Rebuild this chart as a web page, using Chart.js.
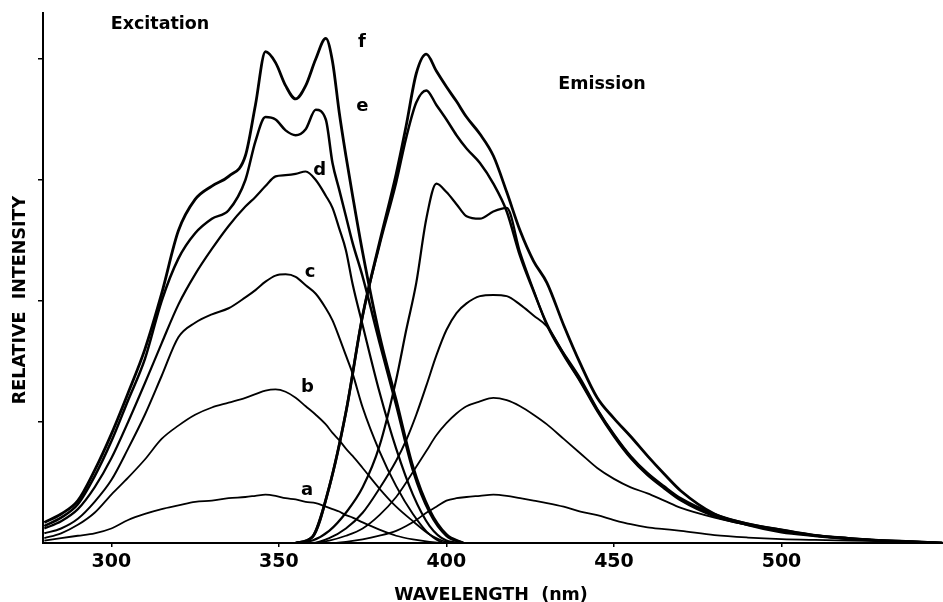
<!DOCTYPE html>
<html>
<head>
<meta charset="utf-8">
<script src="https://cdn.jsdelivr.net/npm/chart.js@4/dist/chart.umd.min.js"></script>
<style>
  html, body { margin: 0; padding: 0; background: #fff; }
</style>
</head>
<body>
<canvas id="spectra" width="943" height="602"></canvas>
<script>
const curveNames = ["a", "b", "c", "d", "e", "f"];

// excitation spectra (nm, relative intensity)
const exWavelengths = [280, 285, 290, 295, 300, 305, 310, 315, 320, 325, 330, 335, 340, 343, 346, 349, 352, 355, 358, 361, 364, 366, 368, 370, 372, 375, 380, 385, 390, 395, 400, 405];
const exA = [0.02, 0.04, 0.06, 0.08, 0.12, 0.19, 0.24, 0.28, 0.31, 0.34, 0.35, 0.37, 0.38, 0.39, 0.40, 0.39, 0.37, 0.36, 0.34, 0.33, 0.30, 0.28, 0.26, 0.23, 0.21, 0.17, 0.11, 0.06, 0.03, 0.01, 0, 0];
const exB = [0.04, 0.08, 0.15, 0.25, 0.40, 0.54, 0.69, 0.86, 0.97, 1.06, 1.12, 1.16, 1.20, 1.23, 1.26, 1.27, 1.25, 1.20, 1.13, 1.06, 0.98, 0.91, 0.85, 0.78, 0.72, 0.62, 0.45, 0.30, 0.18, 0.07, 0.01, 0];
const exC = [0.08, 0.12, 0.20, 0.34, 0.52, 0.78, 1.06, 1.38, 1.70, 1.82, 1.89, 1.94, 2.03, 2.09, 2.16, 2.21, 2.22, 2.20, 2.13, 2.06, 1.94, 1.84, 1.70, 1.55, 1.40, 1.12, 0.76, 0.47, 0.24, 0.07, 0, 0];
const exD = [0.12, 0.18, 0.28, 0.46, 0.70, 1.00, 1.32, 1.65, 1.97, 2.22, 2.43, 2.62, 2.78, 2.86, 2.95, 3.03, 3.04, 3.05, 3.07, 3.00, 2.87, 2.77, 2.60, 2.42, 2.14, 1.80, 1.25, 0.78, 0.40, 0.14, 0.02, 0];
const exE = [0.14, 0.21, 0.32, 0.55, 0.84, 1.18, 1.52, 2.00, 2.35, 2.56, 2.68, 2.75, 3.00, 3.32, 3.52, 3.50, 3.41, 3.37, 3.42, 3.58, 3.50, 3.14, 2.92, 2.70, 2.48, 2.20, 1.66, 1.14, 0.60, 0.25, 0.06, 0];
const exF = [0.17, 0.24, 0.35, 0.60, 0.90, 1.24, 1.60, 2.06, 2.58, 2.84, 2.95, 3.03, 3.20, 3.62, 4.06, 3.97, 3.78, 3.67, 3.78, 4.00, 4.17, 3.98, 3.56, 3.20, 2.87, 2.40, 1.72, 1.18, 0.63, 0.27, 0.07, 0];

// emission spectra
const emWavelengths = [355, 360, 365, 370, 375, 380, 385, 388, 391, 394, 397, 400, 403, 406, 410, 414, 418, 422, 426, 430, 435, 440, 445, 450, 455, 460, 465, 470, 480, 490, 500, 510, 520, 530, 540, 548];
const emA = [0, 0, 0, 0.01, 0.03, 0.06, 0.10, 0.14, 0.19, 0.25, 0.30, 0.35, 0.37, 0.38, 0.39, 0.40, 0.39, 0.37, 0.35, 0.33, 0.30, 0.26, 0.23, 0.19, 0.155, 0.13, 0.115, 0.10, 0.065, 0.045, 0.032, 0.025, 0.02, 0.015, 0.01, 0];
const emB = [0, 0, 0.02, 0.06, 0.12, 0.23, 0.38, 0.50, 0.63, 0.76, 0.89, 0.99, 1.07, 1.13, 1.17, 1.20, 1.18, 1.13, 1.06, 0.98, 0.86, 0.74, 0.62, 0.53, 0.46, 0.41, 0.35, 0.29, 0.21, 0.15, 0.10, 0.06, 0.035, 0.02, 0.01, 0];
const emC = [0, 0, 0.04, 0.12, 0.25, 0.45, 0.68, 0.85, 1.06, 1.30, 1.55, 1.76, 1.90, 1.98, 2.04, 2.05, 2.04, 1.97, 1.88, 1.79, 1.57, 1.36, 1.11, 0.90, 0.72, 0.58, 0.47, 0.37, 0.24, 0.16, 0.11, 0.065, 0.04, 0.02, 0.01, 0];
const emD = [0, 0.02, 0.10, 0.25, 0.46, 0.80, 1.35, 1.76, 2.15, 2.68, 2.97, 2.90, 2.80, 2.70, 2.68, 2.74, 2.77, 2.40, 2.09, 1.80, 1.55, 1.33, 1.09, 0.88, 0.70, 0.56, 0.45, 0.35, 0.22, 0.15, 0.10, 0.06, 0.035, 0.02, 0.01, 0];
const emE = [0, 0.05, 0.46, 1.08, 1.88, 2.46, 2.98, 3.35, 3.64, 3.74, 3.62, 3.50, 3.37, 3.26, 3.14, 2.97, 2.74, 2.37, 2.08, 1.81, 1.56, 1.34, 1.10, 0.89, 0.71, 0.57, 0.46, 0.36, 0.23, 0.16, 0.11, 0.065, 0.04, 0.02, 0.01, 0];
const emF = [0, 0.05, 0.46, 1.08, 1.88, 2.48, 3.05, 3.45, 3.88, 4.04, 3.90, 3.77, 3.65, 3.52, 3.38, 3.20, 2.90, 2.58, 2.33, 2.15, 1.80, 1.48, 1.20, 1.03, 0.88, 0.72, 0.57, 0.43, 0.24, 0.15, 0.09, 0.06, 0.035, 0.02, 0.01, 0];

const xTicks = [300, 350, 400, 450, 500];
const yTicks = [1, 2, 3, 4];

// where the letters a..f sit (nm, intensity)
const letterWl = [358.4, 358.5, 359.3, 362.2, 374.9, 374.8];
const letterVal = [0.40, 1.25, 2.20, 3.04, 3.57, 4.10];

const exSeries = [exA, exB, exC, exD, exE, exF];
const emSeries = [emA, emB, emC, emD, emE, emF];
const widths = [1.8, 1.8, 2, 2.2, 2.5, 2.8];

const FONT = "'DejaVu Sans', 'Liberation Sans', sans-serif";

function toPoints(xs, ys) {
  return xs.map((x, i) => ({ x: x, y: ys[i] }));
}

function buildDatasets() {
  const sets = [];
  curveNames.forEach((name, i) => {
    sets.push({
      label: "Excitation " + name,
      data: toPoints(exWavelengths, exSeries[i]),
      borderColor: "#000",
      borderWidth: widths[i],
      pointRadius: 0,
      cubicInterpolationMode: "monotone",
    });
    sets.push({
      label: "Emission " + name,
      data: toPoints(emWavelengths, emSeries[i]),
      borderColor: "#000",
      borderWidth: widths[i],
      pointRadius: 0,
      cubicInterpolationMode: "monotone",
    });
  });
  return sets;
}

const textPlugin = {
  id: "spectraText",
  afterDraw(chart) {
    const ctx = chart.ctx;
    const xs = chart.scales.x;
    const ys = chart.scales.y;
    ctx.save();
    ctx.fillStyle = "#000";
    ctx.textAlign = "center";
    ctx.textBaseline = "alphabetic";

    ctx.font = "bold 17.5px " + FONT;
    ctx.fillText("Excitation", 160, 29);
    ctx.fillText("Emission", 602, 89);

    ctx.font = "bold 18px " + FONT;
    curveNames.forEach((name, i) => {
      ctx.fillText(name, xs.getPixelForValue(letterWl[i]), ys.getPixelForValue(letterVal[i]));
    });

    ctx.font = "bold 17.5px " + FONT;
    ctx.fillText("WAVELENGTH  (nm)", 491, 600);

    ctx.translate(25, 300);
    ctx.rotate(-Math.PI / 2);
    ctx.fillText("RELATIVE  INTENSITY", 0, 0);
    ctx.restore();
  },
};

new Chart(document.getElementById("spectra"), {
  type: "line",
  data: { datasets: buildDatasets() },
  options: {
    responsive: false,
    animation: false,
    layout: { padding: { top: 13, left: 0, right: 0, bottom: 0 } },
    plugins: {
      legend: { display: false },
      tooltip: { enabled: false },
    },
    scales: {
      x: {
        type: "linear",
        min: 279.6,
        max: 548.2,
        afterBuildTicks: (scale) => {
          scale.ticks = xTicks.map((v) => ({ value: v }));
        },
        afterFit: (scale) => {
          scale.height = 59;
        },
        ticks: {
          color: "#000",
          padding: 4,
          font: { family: FONT, weight: "bold", size: 19 },
        },
        grid: { drawOnChartArea: false, tickLength: 4, color: "#000", lineWidth: 1.5 },
        border: { color: "#000", width: 2 },
      },
      y: {
        min: 0,
        max: 4.38,
        afterBuildTicks: (scale) => {
          scale.ticks = yTicks.map((v) => ({ value: v }));
        },
        afterFit: (scale) => {
          scale.width = 43;
        },
        ticks: { display: false },
        grid: { drawOnChartArea: false, tickLength: 5, color: "#000", lineWidth: 1.5 },
        border: { color: "#000", width: 2 },
      },
    },
  },
  plugins: [textPlugin],
});
</script>
</body>
</html>
